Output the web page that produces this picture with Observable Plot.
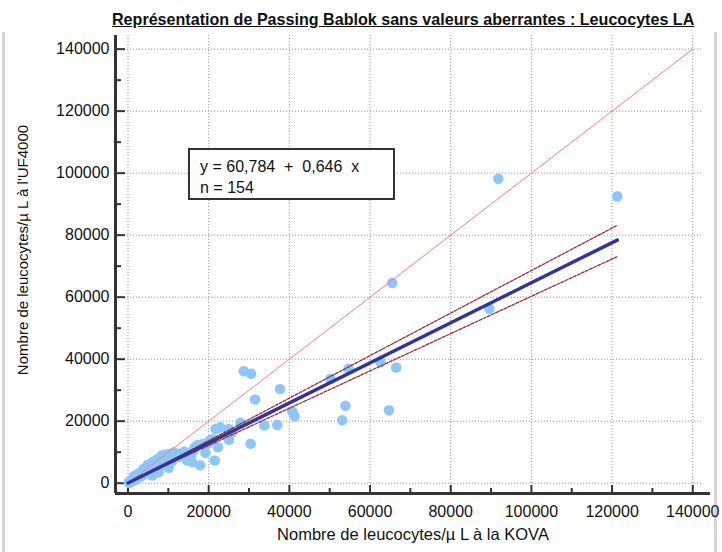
<!DOCTYPE html>
<html>
<head>
<meta charset="utf-8">
<script src="https://cdn.jsdelivr.net/npm/d3@7"></script>
<script src="https://cdn.jsdelivr.net/npm/@observablehq/plot@0.6"></script>
<style>
  html, body { margin: 0; padding: 0; background: #fff; }
  #wrap { position: relative; width: 722px; height: 552px; overflow: hidden; font-family: Arial, "Liberation Sans", sans-serif; }
  #title { position: absolute; left: 112px; top: 10px; font-size: 16.1px; font-weight: bold; text-decoration: underline; color: #111; white-space: nowrap; }
  #legend { position: absolute; left: 188px; top: 148px; width: 203px; height: 48px; border: 2px solid #333; background: #fff; font-size: 16px; color: #111; white-space: pre; line-height: 21px; box-sizing: content-box; }
  #legend div { padding-left: 10px; }
  .edge { position: absolute; top: 32px; width: 3px; height: 520px; background: #d4d4d4; }
  svg { position: absolute; left: 0; top: 0; }
</style>
</head>
<body>
<div id="wrap">
  <div class="edge" style="left:2px"></div>
  <div class="edge" style="left:714px"></div>
  <div id="chart"></div>
  <div id="title">Représentation de Passing Bablok sans valeurs aberrantes : Leucocytes LA</div>
  <div id="legend"><div style="margin-top:6px">y = 60,784  +  0,646  x</div><div>n = 154</div></div>
</div>
<script>
// ---- data ----
const kova = [
  91800,121300,65500,89600,28700,30500,66500,62600,37700,31500,53900,64700,53100,50200,54700,
  40700,41300,37000,33800,30400,27900,25000,22900,21700,25000,22300,19200,17900,21500,15500,
  14700,25800,19600,12200,10500,9300,8500,9700,7200,6400,15900,15500,
  200,300,400,500,600,700,800,900,1000,1100,1200,1300,1400,1500,1600,1700,1800,1900,2000,2100,
  2200,2300,2400,2500,2600,2700,2800,2900,3000,3100,3200,3300,3400,3500,3600,3700,3800,3900,
  4000,4100,4200,4300,4400,4500,4600,4800,5000,5100,5200,5400,5500,5700,5900,6000,6200,6400,
  6500,6700,6900,7400,7600,7800,8000,8200,8700,8900,9100,9500,10000,10100,10300,10800,11200,
  11500,12000,12600,13000,13500,14000,16500,17200,18500,20300,21000,16200,13800,11000,
  1500,2600,3800,4900,6100,7300,8400,9800,11300
];
const uf4000 = [
  98200,92500,64600,56300,36100,35300,37300,39000,30400,27000,25000,23500,20300,33700,36900,
  23200,21600,18800,18600,12700,19500,17500,18000,17500,14000,11600,9800,5800,7300,8000,
  7300,16400,12700,9500,9500,8900,7900,5700,5700,4600,6800,8900,
  300,150,500,350,700,400,600,850,700,1200,900,1000,1900,1200,1400,1000,1600,1300,1800,1500,
  2300,1700,2000,2500,1900,2200,2400,2000,2700,2300,3000,2500,2800,3300,2600,3100,2900,3500,
  3000,3400,3700,3200,3600,4200,3300,3900,4500,6000,3800,4300,5200,4000,4800,2500,5500,5000,
  5000,5800,4900,6300,3500,5400,6300,6800,6000,8900,7300,7600,8400,5000,8200,8600,7800,
  9200,8600,8500,9400,8900,10200,11500,12300,12600,13800,14200,10500,9600,7200,
  2300,3200,4600,5900,6900,7800,8900,9300,9900
];
// fitted line (Passing-Bablok): y = 60.784 + 0.646 x, drawn over KOVA range
const fitIntercept = 60.784, fitSlope = 0.646;
const fitRange = [0, 121300];
// confidence limits (endpoints)
const ciUpperX = [0, 121300], ciUpperY = [0, 83200];
const ciLowerX = [0, 121300], ciLowerY = [120, 73100];
// identity line
const identityX = [0, 140000], identityY = [0, 140000];
// axes
const xDomain = [-3100, 144400];
const yDomain = [-3320, 144400];
const majorTicks = [0, 20000, 40000, 60000, 80000, 100000, 120000, 140000];
const minorTicks = [10000, 30000, 50000, 70000, 90000, 110000, 130000];
const xLabel = "Nombre de leucocytes/µ L à la KOVA";
const yLabel = "Nombre de leucocytes/µ L à l'UF4000";

const points = kova.map((x, i) => ({x, y: uf4000[i]}));
const fit = fitRange.map(x => ({x, y: fitIntercept + fitSlope * x}));
const ciU = ciUpperX.map((x, i) => ({x, y: ciUpperY[i]}));
const ciL = ciLowerX.map((x, i) => ({x, y: ciLowerY[i]}));
const ident = identityX.map((x, i) => ({x, y: identityY[i]}));

const W = 722, H = 552, mL = 115, mR = 12, mT = 35, mB = 59;
const frameH = H - mT - mB, frameW = W - mL - mR;
const fmt = d => String(d);

const chart = Plot.plot({
  width: W, height: H,
  marginLeft: mL, marginRight: mR, marginTop: mT, marginBottom: mB,
  style: {fontFamily: "Arial, 'Liberation Sans', sans-serif", fontSize: "16px", color: "#111", background: "transparent", overflow: "visible"},
  x: {domain: xDomain},
  y: {domain: yDomain},
  marks: [
    Plot.gridX(majorTicks, {stroke: "#999", strokeOpacity: 1, strokeDasharray: "1.2,1.8", strokeWidth: 1}),
    Plot.gridY(majorTicks, {stroke: "#999", strokeOpacity: 1, strokeDasharray: "1.2,1.8", strokeWidth: 1, insetRight: 7}),
    Plot.tickX(majorTicks, {x: d => d, stroke: "#333", strokeWidth: 2, insetTop: frameH - 8}),
    Plot.tickX(minorTicks, {x: d => d, stroke: "#333", strokeWidth: 2, insetTop: frameH - 5}),
    Plot.tickY(majorTicks, {y: d => d, stroke: "#333", strokeWidth: 2, insetRight: frameW - 10}),
    Plot.tickY(minorTicks, {y: d => d, stroke: "#333", strokeWidth: 2, insetRight: frameW - 6}),
    Plot.axisX(majorTicks, {tickSize: 0, tickPadding: 12, fontSize: 16, tickFormat: fmt, label: xLabel, labelAnchor: "center", labelOffset: 46, labelArrow: "none"}),
    Plot.axisY(majorTicks, {tickSize: 0, tickPadding: 6, fontSize: 16, tickFormat: fmt, label: null}),
    Plot.dot(points, {x: "x", y: "y", r: 5.3, fill: "#8ec6fa", stroke: "none"}),
    Plot.line(ident, {x: "x", y: "y", stroke: "#ff7a7a", strokeWidth: 1}),
    Plot.line(ciU, {x: "x", y: "y", stroke: "#9b2f2f", strokeWidth: 1.3, strokeDasharray: "3,1.5"}),
    Plot.line(ciL, {x: "x", y: "y", stroke: "#9b2f2f", strokeWidth: 1.3, strokeDasharray: "3,1.5"}),
    Plot.line(fit, {x: "x", y: "y", stroke: "#33339c", strokeWidth: 3.5}),
    Plot.ruleX([xDomain[0]], {stroke: "#333", strokeWidth: 3}),
    Plot.ruleY([yDomain[0]], {stroke: "#333", strokeWidth: 3})
  ]
});
document.getElementById("chart").appendChild(chart);

// x-axis title slightly larger to match reference width
d3.select(chart).selectAll("text").filter(function() { return this.textContent === xLabel; }).style("font-size", "16.5px");

// rotated y-axis title as real SVG text
d3.select(chart).append("text")
  .attr("transform", "translate(28,250) rotate(-90)")
  .attr("text-anchor", "middle")
  .attr("fill", "#111")
  .style("font-size", "15px")
  .text(yLabel);
</script>
</body>
</html>
